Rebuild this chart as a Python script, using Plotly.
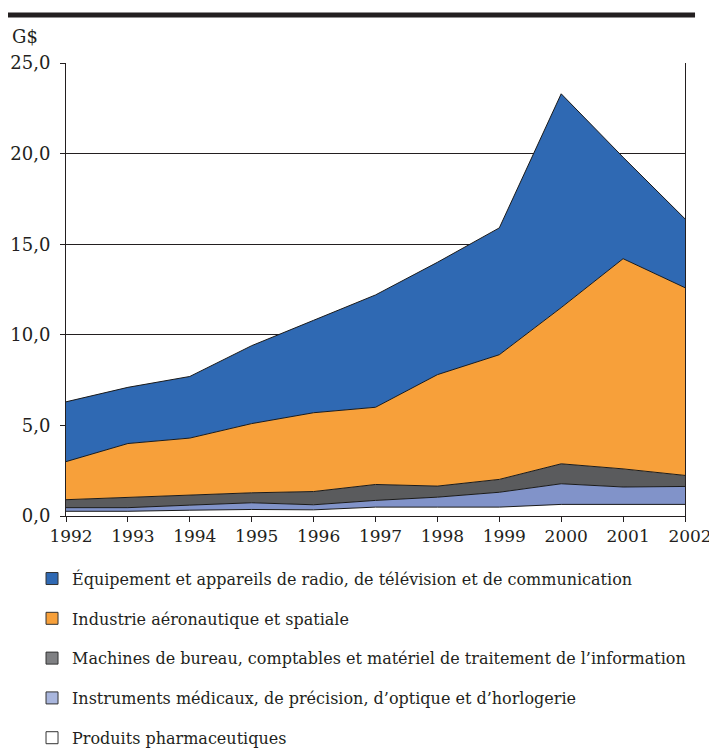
import plotly.graph_objects as go

years = [1992, 1993, 1994, 1995, 1996, 1997, 1998, 1999, 2000, 2001, 2002]

pharma = [0.26, 0.26, 0.32, 0.36, 0.34, 0.49, 0.49, 0.49, 0.64, 0.64, 0.64]
instruments = [0.20, 0.20, 0.28, 0.37, 0.28, 0.37, 0.55, 0.82, 1.14, 0.96, 0.99]
machines = [0.44, 0.58, 0.56, 0.55, 0.73, 0.88, 0.61, 0.71, 1.10, 1.00, 0.61]
aero = [2.10, 2.96, 3.14, 3.82, 4.35, 4.26, 6.15, 6.88, 8.62, 11.60, 10.36]
radio = [3.30, 3.10, 3.40, 4.30, 5.10, 6.20, 6.20, 7.00, 11.80, 5.60, 3.80]

names = [
    "Produits pharmaceutiques",
    "Instruments médicaux, de précision, d’optique et d’horlogerie",
    "Machines de bureau, comptables et matériel de traitement de l’information",
    "Industrie aéronautique et spatiale",
    "Équipement et appareils de radio, de télévision et de communication",
]
series = [pharma, instruments, machines, aero, radio]
colors = ["#FFFFFF", "#8193C9", "#5A5B5D", "#F7A03A", "#2F69B3"]
legend_colors = ["#FFFFFF", "#A9B6DD", "#7F8083", "#F7A03A", "#2F69B3"]

y_ticks = [0, 5, 10, 15, 20, 25]

FONT = "DejaVu Serif"
INK = "#231f20"

fig = go.Figure()
for name, vals, col in zip(names, series, colors):
    fig.add_trace(go.Scatter(
        x=years, y=vals, name=name, stackgroup="one", mode="lines",
        line=dict(color="#1a1a1a", width=1), fillcolor=col,
        showlegend=False, hoverinfo="skip",
    ))

# legend entries (top of stack first)
for i in reversed(range(len(names))):
    fig.add_trace(go.Bar(
        x=[None], y=[None], name=names[i],
        marker=dict(color=legend_colors[i], line=dict(color="#333333", width=1)),
        legendgroup=f"g{i}", showlegend=True,
    ))

fig.update_layout(
    width=709, height=742,
    paper_bgcolor="white", plot_bgcolor="white",
    margin=dict(l=58, r=32, t=55, b=234, autoexpand=False),
    separators=", ",
    font=dict(family=FONT, color=INK, size=17),
    xaxis=dict(
        range=[1992, 2002], tickmode="array", tickvals=years,
        ticks="outside", ticklen=5, tickcolor=INK,
        showline=True, linecolor=INK, linewidth=1,
        showgrid=False, zeroline=False, ticklabelshift=5,
        tickfont=dict(family=FONT, size=17, color=INK),
    ),
    yaxis=dict(
        range=[0, 25], tickmode="array", tickvals=y_ticks,
        tickformat=".1f", ticks="outside", ticklen=5, tickcolor=INK,
        showline=True, linecolor=INK, linewidth=1, mirror=True,
        showgrid=True, gridcolor=INK, gridwidth=1, zeroline=False,
        ticklabelstandoff=6,
        tickfont=dict(family=FONT, size=18, color=INK),
    ),
    legend=dict(
        x=-0.0549, y=-0.1007, xanchor="left", yanchor="top",
        traceorder="grouped", tracegroupgap=16,
        font=dict(family=FONT, size=16, color=INK),
        bgcolor="rgba(0,0,0,0)",
    ),
    showlegend=True,
)

fig.add_shape(type="line", xref="paper", yref="paper",
              x0=-0.0937, x1=1.0162, y0=1.106, y1=1.106,
              line=dict(color=INK, width=5))

fig.add_annotation(text="G$", xref="paper", yref="paper",
                   x=-0.09, y=1.0574, xanchor="left", yanchor="middle",
                   showarrow=False, font=dict(family=FONT, size=18, color=INK))

fig.write_html("out.html")
